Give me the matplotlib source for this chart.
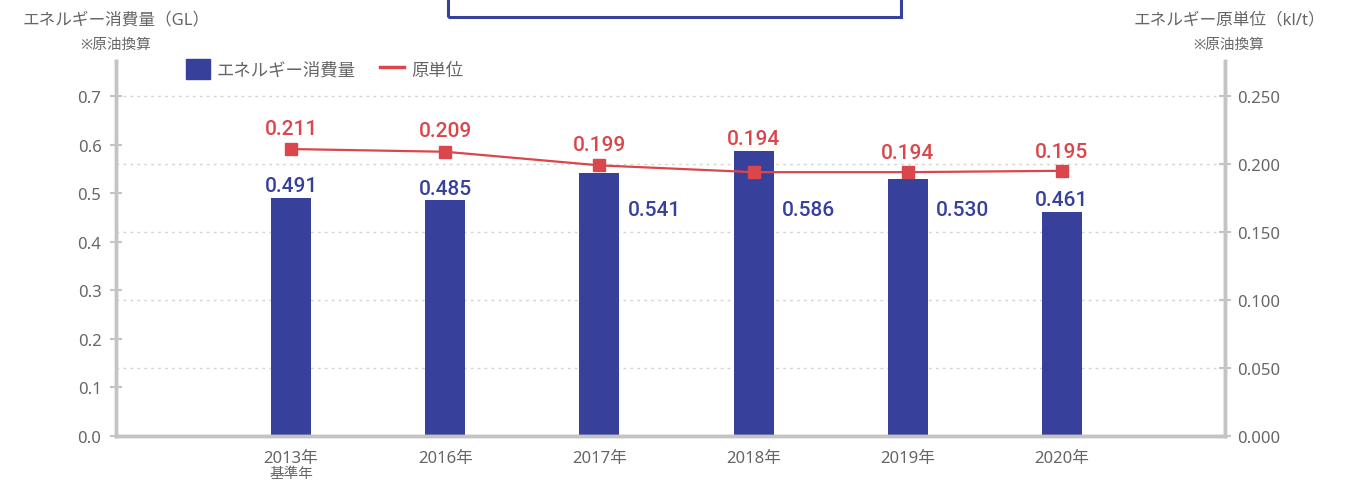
import numpy as np
from matplotlib import pyplot as plt
from matplotlib.patches import Rectangle, Patch
from matplotlib.lines import Line2D

plt.rcParams['font.family'] = ['Noto Sans', 'Noto Sans CJK JP', 'DejaVu Sans']

# データ
years = ['2013年', '2016年', '2017年', '2018年', '2019年', '2020年']
sub_labels = ['基準年', '', '', '', '', '']
consumption = [0.491, 0.485, 0.541, 0.586, 0.530, 0.461]   # GL
intensity = [0.211, 0.209, 0.199, 0.194, 0.194, 0.195]     # kl/t

# ラベルの置き方 (上 or 右)
bar_label_side = ['top', 'top', 'right', 'right', 'right', 'top']
line_label_off = [15, 15, 15, 24, 14, 14]   # points

blue = '#37409a'
red = '#d9474c'
gray = '#c4c4c4'
txt = '#666666'
num_font = dict(family=['Roboto', 'DejaVu Sans'], fontsize=15, fontweight='medium')

fig = plt.figure(figsize=(13.51, 4.81), dpi=100)
ax = fig.add_axes([116/1351, 1-437/481, (1225-116)/1351, (437-62)/481])
ax2 = ax.twinx()

x = np.arange(len(years))
y2_ticks = np.arange(0, 0.2501, 0.05)
ylim1 = 0.7*375/340
ylim2 = 0.25*375/340

# 点線グリッド (右軸の目盛り位置)
for t in y2_ticks[1:]:
    ax.axhline(t*ylim1/ylim2, color='#d5d5d5', lw=1, ls=(0, (2, 3)), zorder=0)

bars = ax.bar(x, consumption, width=0.26, color=blue, zorder=2)
for i, v in enumerate(consumption):
    if bar_label_side[i] == 'top':
        ax.annotate('{:.3f}'.format(v), (x[i], v), xytext=(0, 2), textcoords='offset points',
                    ha='center', va='bottom', color=blue, **num_font)
    else:
        ax.annotate('{:.3f}'.format(v), (x[i] + 0.13, 0.467), xytext=(6, 0), textcoords='offset points',
                    ha='left', va='center', color=blue, **num_font)

ax2.plot(x, intensity, color=red, lw=1.6, marker='s', ms=8, zorder=3)
for i, v in enumerate(intensity):
    ax2.annotate('{:.3f}'.format(v), (x[i], v), xytext=(0, line_label_off[i]), textcoords='offset points',
                 ha='center', va='center', color=red, **num_font)

ax.set_xlim(-1.136, 6.058)
ax.set_ylim(0, ylim1)
ax2.set_ylim(0, ylim2)
ax.set_yticks(np.arange(0, 0.71, 0.1))
ax.set_yticklabels(['{:.1f}'.format(t) for t in np.arange(0, 0.71, 0.1)])
ax2.set_yticks(y2_ticks)
ax2.set_yticklabels(['{:.3f}'.format(t) for t in y2_ticks])
ax.set_xticks(x)
ax.set_xticklabels(years)

for a in (ax, ax2):
    a.spines['top'].set_visible(False)
    for s in ('left', 'right', 'bottom'):
        a.spines[s].set_color(gray)
        a.spines[s].set_linewidth(2.5)
ax.tick_params(axis='y', direction='inout', length=9, width=1.5, color=gray,
               labelsize=12, labelcolor=txt, pad=6)
ax2.tick_params(axis='y', direction='inout', length=9, width=1.5, color=gray,
                labelsize=12, labelcolor=txt, pad=4)
ax.tick_params(axis='x', length=0, labelsize=12, labelcolor=txt, pad=10)

for i, s in enumerate(sub_labels):
    if s:
        ax.annotate(s, (x[i], 0), xytext=(0, -27), textcoords='offset points',
                    ha='center', va='center', fontsize=10.5, color=txt, annotation_clip=False)

# 軸タイトル
fig.text(116/1351, 1-20/481, 'エネルギー消費量（GL）', ha='center', va='center', fontsize=12, color=txt)
fig.text(116/1351, 1-45/481, '※原油換算', ha='center', va='center', fontsize=10.5, color=txt)
fig.text(1229/1351, 1-20/481, 'エネルギー原単位（kl/t）', ha='center', va='center', fontsize=12, color=txt)
fig.text(1229/1351, 1-45/481, '※原油換算', ha='center', va='center', fontsize=10.5, color=txt)

# 凡例
handles = [Patch(color=blue), Line2D([0], [0], color=red, lw=2.5)]
ax.legend(handles, ['エネルギー消費量', '原単位'], loc='center left',
          bbox_to_anchor=((170-116)/1109, (437-70)/375), frameon=False, ncol=2,
          fontsize=12.5, handlelength=1.4, handleheight=1.4, handletextpad=0.4,
          columnspacing=1.4, labelcolor=txt)

# 上部の枠
fig.patches.append(Rectangle((448/1351, 1-18/481), (901-448)/1351, 0.2,
                             transform=fig.transFigure, fill=False, edgecolor=blue, lw=2.2))

plt.savefig('out.png', dpi=100)
